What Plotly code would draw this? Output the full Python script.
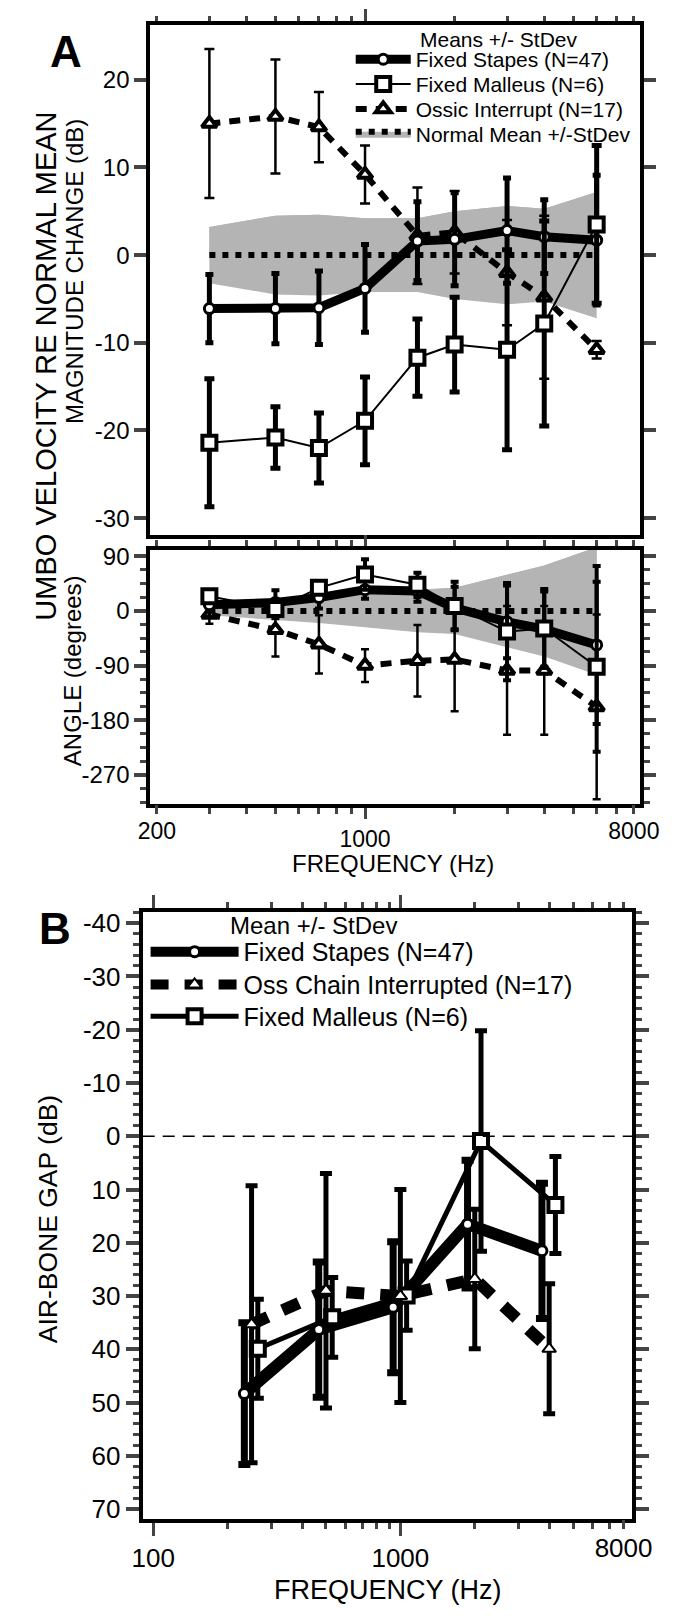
import plotly.graph_objects as go

# ---------------- DATA ----------------
# Panel A (umbo velocity re normal mean)
freq_a = [300, 500, 700, 1000, 1500, 2000, 3000, 4000, 6000]

stapes_mag = [-6.1, -6.1, -6.0, -3.8, 1.6, 1.8, 2.8, 2.1, 1.7]
stapes_mag_sd = [3.9, 4.0, 4.2, 5.0, 4.5, 5.3, 6.0, 4.2, 7.4]
malleus_mag = [-21.4, -20.8, -22.0, -18.9, -11.7, -10.2, -10.8, -7.8, 3.5]
malleus_mag_sd = [7.3, 3.5, 4.0, 5.0, 4.4, 5.4, 11.4, 11.7, 9.0]
ossic_mag = [15.0, 15.8, 14.6, 9.2, 2.2, 2.6, -2.0, -4.8, -10.8]
ossic_mag_sd = [8.5, 6.5, 4.0, 3.3, 5.5, 4.7, 6.0, 9.3, 1.0]
normal_mag = [0, 0, 0, 0, 0, 0, 0, 0, 0]
normal_mag_sd = [3.2, 4.5, 4.6, 4.2, 4.2, 5.0, 5.6, 5.3, 7.2]

stapes_ph = [10, 14, 22, 35, 33, 5, -18, -30, -56]
stapes_ph_sd = [20, 20, 18, 15, 18, 35, 60, 62, 130]
malleus_ph = [24, 3, 38, 60, 43, 8, -34, -29, -92]
malleus_ph_sd = [8, 15, 10, 25, 20, 40, 80, 65, 140]
ossic_ph = [-6, -31, -55, -90, -82, -80, -98, -98, -158]
ossic_ph_sd = [15, 44, 48, 27, 59, 85, 106, 106, 152]
normal_ph = [0, 0, 0, 0, 0, 0, 0, 0, 0]
normal_ph_sd = [7, 15, 20, 27, 35, 38, 60, 75, 105]

# Panel B (air-bone gap)
freq_b = [250, 500, 1000, 2000, 4000]
stapes_gap = [48.3, 36.3, 32.1, 16.5, 21.5]
stapes_gap_sd = [13.3, 12.7, 12.3, 12.0, 12.7]
ossic_gap = [35.3, 29.0, 30.0, 26.8, 39.9]
ossic_gap_sd = [26.0, 22.0, 20.0, 13.1, 12.2]
malleus_gap = [39.9, 34.0, 29.9, 0.9, 12.9]
malleus_gap_sd = [9.3, 7.5, 6.5, 20.7, 9.1]

# horizontal plotting offsets used in panel B to separate the groups
offset_stapes_b = 0.935
offset_ossic_b = 1.0
offset_malleus_b = 1.06

# tick labels
mag_ticks = [-30, -20, -10, 0, 10, 20]
ph_ticks = [-270, -180, -90, 0, 90]
gap_ticks = [-40, -30, -20, -10, 0, 10, 20, 30, 40, 50, 60, 70]
minor_a = [200, 300, 400, 500, 600, 700, 800, 900, 2000, 3000, 4000, 5000, 6000, 7000, 8000]
minor_b = [200, 300, 400, 500, 600, 700, 800, 900, 2000, 3000, 4000, 5000, 6000, 7000, 8000]

# ---------------- STYLE ----------------
W, H = 698, 1621
FA = "Liberation Sans, Arial, sans-serif"
FB = "Liberation Sans, Arial, sans-serif"
GRAY = "#b4b4b4"

def px(x):
    return x / W

def py(y):
    return 1 - y / H

fig = go.Figure()

def band(xs, mean, sd, xa, ya, legend_name=None, lg="legend"):
    lo = [m - s for m, s in zip(mean, sd)]
    hi = [m + s for m, s in zip(mean, sd)]
    fig.add_trace(go.Scatter(x=xs, y=lo, mode="lines", line=dict(width=0, color=GRAY),
                             showlegend=False, hoverinfo="skip", xaxis=xa, yaxis=ya))
    fig.add_trace(go.Scatter(x=xs, y=hi, mode="lines", line=dict(width=0, color=GRAY),
                             fill="tonexty", fillcolor=GRAY, showlegend=False,
                             hoverinfo="skip", xaxis=xa, yaxis=ya))
    fig.add_trace(go.Scatter(x=xs, y=mean, mode="lines",
                             line=dict(width=6, color="black", dash="6px,7px"),
                             fill="tonexty", fillcolor=GRAY,
                             name=legend_name or "", showlegend=legend_name is not None,
                             legend=lg, xaxis=xa, yaxis=ya))

def series(xs, ys, sd, xa, ya, name, lw, dash, sym, msize, mlw, ethick, ewidth, show, lg):
    fig.add_trace(go.Scatter(
        x=xs, y=ys, mode="lines+markers", name=name,
        line=dict(color="black", width=lw, dash=dash),
        marker=dict(symbol=sym, size=msize, color="white", line=dict(color="black", width=mlw)),
        error_y=dict(type="data", array=sd, visible=True, color="black",
                     thickness=ethick, width=ewidth),
        showlegend=show, legend=lg,
        xaxis=xa, yaxis=ya))

# --- Panel A magnitude ---
band(freq_a, normal_mag, normal_mag_sd, "x", "y", "Normal Mean +/-StDev", "legend4")
series(freq_a, ossic_mag, ossic_mag_sd, "x", "y", "Ossic Interrupt (N=17)", 6, "11px,9px",
       "triangle-up", 13, 4, 2.5, 5, True, "legend3")
series(freq_a, stapes_mag, stapes_mag_sd, "x", "y", "Fixed Stapes (N=47)", 9, "solid",
       "circle", 10, 3, 5, 4, True, "legend")
series(freq_a, malleus_mag, malleus_mag_sd, "x", "y", "Fixed Malleus (N=6)", 2, "solid",
       "square", 14, 4, 5, 5, True, "legend2")

# --- Panel A phase ---
band(freq_a, normal_ph, normal_ph_sd, "x2", "y2")
series(freq_a, ossic_ph, ossic_ph_sd, "x2", "y2", "ossic", 6, "11px,9px",
       "triangle-up", 13, 4, 2.5, 4, False, "legend")
series(freq_a, stapes_ph, stapes_ph_sd, "x2", "y2", "stapes", 9, "solid",
       "circle", 10, 3, 4, 4, False, "legend")
series(freq_a, malleus_ph, malleus_ph_sd, "x2", "y2", "malleus", 2, "solid",
       "square", 14, 4, 4, 4, False, "legend")

# --- Panel B ---
fb_st = [f * offset_stapes_b for f in freq_b]
fb_os = [f * offset_ossic_b for f in freq_b]
fb_ma = [f * offset_malleus_b for f in freq_b]
series(fb_st, stapes_gap, stapes_gap_sd, "x3", "y3", "Fixed Stapes (N=47)", 12, "solid",
       "circle", 10, 3, 7, 6, True, "legend5")
series(fb_ma, malleus_gap, malleus_gap_sd, "x3", "y3", "Fixed Malleus (N=6)", 5, "solid",
       "square", 14, 4, 5, 6, True, "legend7")
series(fb_os, ossic_gap, ossic_gap_sd, "x3", "y3", "Oss Chain Interrupted (N=17)", 12, "18px,16px",
       "triangle-up", 12, 2, 5, 6, True, "legend6")

# empty traces so that the label-only overlay axes get drawn
fig.add_trace(go.Scatter(x=[], y=[], xaxis="x4", yaxis="y2", showlegend=False, hoverinfo="skip"))
fig.add_trace(go.Scatter(x=[], y=[], xaxis="x5", yaxis="y3", showlegend=False, hoverinfo="skip"))

# zero reference line in panel B
fig.add_shape(type="line", xref="x3 domain", yref="y3", x0=0, x1=1, y0=0, y1=0,
              line=dict(color="black", width=1.5, dash="12px,8px"))

# ---------------- AXES ----------------
ax_line = dict(showline=True, linewidth=4, linecolor="black", showgrid=False, zeroline=False)
A_dom = [px(145), px(658)]
B_dom = [px(137), px(650)]
A_xr = [2.2788, 3.9232]
B_xr = [1.9576, 3.938]
ytickA = dict(family=FA, size=24, color="black")
xtickA = dict(family=FA, size=23, color="black")
tickfontB = dict(family=FB, size=26, color="black")

fig.update_layout(
    xaxis=dict(ax_line, domain=A_dom, type="log", range=A_xr, anchor="y", side="top",
               mirror=True, ticks="outside", tickvals=[1000], ticklen=12, tickwidth=3,
               showticklabels=False,
               minor=dict(tickvals=minor_a, ticklen=5, tickwidth=3, ticks="outside")),
    yaxis=dict(ax_line, domain=[py(532), py(18)], range=[-31.93, 26.26], anchor="x",
               tickvals=mag_ticks, ticktext=[str(v) for v in mag_ticks],
               ticks="outside", ticklen=12, tickwidth=4, mirror="ticks",
               tickfont=ytickA),
    xaxis2=dict(ax_line, domain=A_dom, type="log", range=A_xr, anchor="y2",
                mirror="ticks", ticks="outside", tickvals=[1000], ticktext=["1000"],
                ticklen=11, tickwidth=3, tickfont=xtickA,
                minor=dict(tickvals=minor_a, ticklen=6, tickwidth=3, ticks="outside")),
    xaxis4=dict(domain=A_dom, type="log", range=A_xr, anchor="y2", overlaying="x2",
                showline=False, showgrid=False, zeroline=False, ticks="outside",
                tickvals=[200, 8000], ticktext=["200", "8000"], ticklen=6, tickwidth=3,
                tickfont=xtickA),
    yaxis2=dict(ax_line, domain=[py(803), py(547)], range=[-318, 100.4], anchor="x2",
                tickvals=ph_ticks, ticktext=[str(v) for v in ph_ticks],
                ticks="outside", ticklen=12, tickwidth=4, mirror="ticks",
                tickfont=ytickA,
                minor=dict(dtick=22.5, tick0=0, ticklen=6, tickwidth=3, ticks="outside")),
    xaxis3=dict(ax_line, domain=B_dom, type="log", range=B_xr, anchor="y3",
                mirror="ticks", ticks="outside", tickvals=[100, 1000], ticktext=["100", "1000"],
                ticklen=13, tickwidth=3, tickfont=tickfontB,
                minor=dict(tickvals=minor_b, ticklen=6, tickwidth=3, ticks="outside")),
    xaxis5=dict(domain=B_dom, type="log", range=B_xr, anchor="y3", overlaying="x3",
                showline=False, showgrid=False, zeroline=False, ticks="outside",
                tickvals=[8000], ticktext=["8000"], ticklen=6, tickwidth=3,
                tickfont=tickfontB),
    yaxis3=dict(ax_line, domain=[py(1523), py(912)], range=[71.8, -42.05], anchor="x3",
                tickvals=gap_ticks, ticktext=[str(v) for v in gap_ticks],
                ticks="outside", ticklen=13, tickwidth=4, mirror="ticks",
                tickfont=tickfontB,
                minor=dict(dtick=2, tick0=0, ticklen=6, tickwidth=3, ticks="outside")),
)

# ---------------- LEGENDS (one per row, to place rows exactly) ----------------
def leg(x, y, size, iw):
    return dict(x=px(x), y=py(y), xanchor="left", yanchor="middle",
                bgcolor="rgba(0,0,0,0)", font=dict(family=FA, size=size, color="black"),
                itemwidth=iw, tracegroupgap=0)

fig.update_layout(
    legend=leg(355, 53, 21, 55),
    legend2=leg(355, 78, 21, 55),
    legend3=leg(355, 103, 21, 55),
    legend4=leg(355, 128, 21, 55),
    legend5=leg(140, 952, 25, 88),
    legend6=leg(140, 985, 25, 88),
    legend7=leg(140, 1017, 25, 88),
)

# ---------------- TEXT ----------------
def ann(text, x, y, size, family, angle=0, bold=False, xanchor="center", yanchor="middle"):
    fig.add_annotation(text=f"<b>{text}</b>" if bold else text, x=px(x), y=py(y),
                       xref="paper", yref="paper", showarrow=False, textangle=angle,
                       xanchor=xanchor, yanchor=yanchor,
                       font=dict(family=family, size=size, color="black"))

ann("A", 57, 45, 44, "Liberation Sans, Arial", bold=True)
ann("B", 45, 928, 44, "Liberation Sans, Arial", bold=True)
ann("UMBO VELOCITY RE NORMAL MEAN", 36, 362, 29, FA, angle=-90)
ann("MAGNITUDE CHANGE (dB)", 65, 267, 24, FA, angle=-90)
ann("ANGLE (degrees)", 63, 669, 24, FA, angle=-90)
ann("FREQUENCY (Hz)", 399, 863, 24, FA)
ann("Means +/- StDev", 426, 33, 21, FA, xanchor="left")
ann("AIR-BONE GAP (dB)", 38, 1221, 26.5, FB, angle=-90)
ann("FREQUENCY (Hz)", 394, 1595, 27, FB)
ann("Mean +/- StDev", 226, 925, 24, FB, xanchor="left")

fig.update_layout(width=W, height=H, margin=dict(l=0, r=0, t=0, b=0),
                  plot_bgcolor="white", paper_bgcolor="white", showlegend=True)

fig.write_html("out.html", config={"displayModeBar": False},
               post_script="document.body.style.margin='0px';")
